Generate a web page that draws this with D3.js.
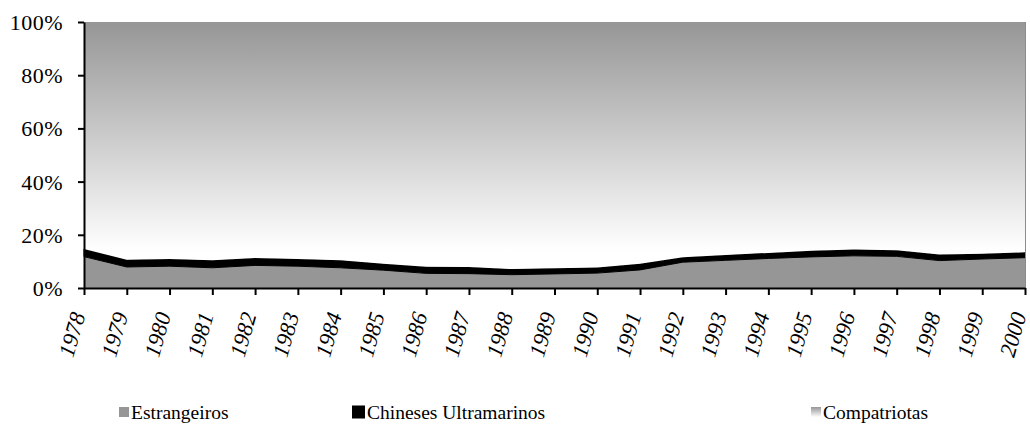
<!DOCTYPE html>
<html>
<head>
<meta charset="utf-8">
<script src="https://cdn.jsdelivr.net/npm/d3@7"></script>
<style>
  html, body { margin: 0; padding: 0; background: #fff; }
  svg { display: block; }
</style>
</head>
<body>
<svg id="chart" width="1030" height="432"></svg>
<script>
const years = ["1978","1979","1980","1981","1982","1983","1984","1985","1986","1987","1988","1989","1990","1991","1992","1993","1994","1995","1996","1997","1998","1999","2000"];
const estrangeiros = [11.8, 7.9, 8.2, 7.6, 8.5, 8.2, 7.6, 6.7, 5.5, 5.4, 5.0, 5.3, 5.6, 6.8, 9.7, 10.4, 11.1, 11.7, 12.1, 11.9, 10.3, 10.9, 11.4];
const chinesesUltramarinos = [2.9, 2.7, 2.7, 2.8, 2.8, 2.7, 2.8, 2.4, 2.5, 2.5, 2.1, 2.1, 2.1, 2.3, 1.9, 2.0, 2.1, 2.3, 2.4, 2.3, 2.3, 2.0, 2.0];
const compatriotas = [85.3, 89.4, 89.1, 89.6, 88.7, 89.1, 89.6, 90.9, 92.0, 92.1, 92.9, 92.6, 92.3, 90.9, 88.4, 87.6, 86.8, 86.0, 85.5, 85.8, 87.4, 87.1, 86.6];
const seriesNames = ["Estrangeiros", "Chineses Ultramarinos", "Compatriotas"];
const yTicks = [0, 20, 40, 60, 80, 100];

const FONT = "Liberation Serif";
const svg = d3.select("#chart").attr("font-family", FONT);
const m = { left: 84, right: 1025, top: 22, bottom: 288 };

const rows = years.map((y, i) => {
  const tot = estrangeiros[i] + chinesesUltramarinos[i] + compatriotas[i];
  return { e: estrangeiros[i] / tot * 100, c: chinesesUltramarinos[i] / tot * 100, p: compatriotas[i] / tot * 100 };
});
const stack = d3.stack().keys(["e", "c", "p"])(rows);

const x = d3.scalePoint().domain(years).range([m.left, m.right]);
const y = d3.scaleLinear().domain([0, 100]).range([m.bottom, m.top]);

const defs = svg.append("defs");
const grad = defs.append("linearGradient").attr("id", "gComp")
  .attr("gradientUnits", "userSpaceOnUse")
  .attr("x1", 0).attr("x2", 0).attr("y1", y(100)).attr("y2", y(14));
grad.append("stop").attr("offset", "0%").attr("stop-color", "#969696");
grad.append("stop").attr("offset", "100%").attr("stop-color", "#ffffff");
const lgGrad = defs.append("linearGradient").attr("id", "gLeg").attr("x1", 0).attr("x2", 0).attr("y1", 0).attr("y2", 1);
lgGrad.append("stop").attr("offset", "0%").attr("stop-color", "#969696");
lgGrad.append("stop").attr("offset", "100%").attr("stop-color", "#ffffff");

const fills = ["#969696", "#000000", "url(#gComp)"];
const area = d3.area().x((d, i) => x(years[i])).y0(d => y(d[0])).y1(d => y(d[1]));
svg.append("g").selectAll("path").data(stack).join("path")
  .attr("d", area).attr("fill", (d, i) => fills[i])
  .attr("stroke", (d, i) => i === 1 ? "#000" : "none").attr("stroke-width", 1);

svg.append("line").attr("x1", m.right + 0.5).attr("x2", m.right + 0.5)
  .attr("y1", m.top).attr("y2", m.bottom).attr("stroke", "#8c8c8c").attr("stroke-width", 1);

// Y axis
const gy = svg.append("g").attr("transform", `translate(${m.left},0)`)
  .call(d3.axisLeft(y).tickValues(yTicks).tickFormat(d => d + "%").tickSize(6).tickSizeOuter(0));
gy.attr("font-family", FONT).attr("font-size", 22);
gy.select(".domain").attr("stroke", "#000").attr("stroke-width", 2);
gy.selectAll(".tick line").attr("stroke", "#000").attr("stroke-width", 2);
gy.selectAll(".tick text").attr("x", -21).attr("dy", "0.34em").attr("font-family", FONT).attr("letter-spacing", 0.5).attr("fill", "#000");

// X axis
const gx = svg.append("g").attr("transform", `translate(0,${m.bottom})`)
  .call(d3.axisBottom(x).tickSize(7).tickSizeOuter(0));
gx.attr("font-family", FONT).attr("font-size", 22.5);
gx.select(".domain").attr("stroke", "#000").attr("stroke-width", 2);
gx.selectAll(".tick line").attr("stroke", "#000").attr("stroke-width", 2);
gx.selectAll(".tick text").attr("text-anchor", "end").attr("dy", 0).attr("y", 0)
  .attr("transform", "translate(1,27) rotate(-74)")
  .attr("font-family", FONT).attr("font-style", "italic").attr("fill", "#000");

// Legend
const legendX = [119, 352, 811];
const legendFill = ["#969696", "#000000", "url(#gLeg)"];
const legendSize = [10, 13, 10];
const lg = svg.append("g").attr("font-family", FONT).attr("font-size", 19.5);
seriesNames.forEach((name, i) => {
  const s = legendSize[i];
  lg.append("rect").attr("x", legendX[i]).attr("y", 412 - s / 2).attr("width", s).attr("height", s).attr("fill", legendFill[i]);
  lg.append("text").attr("x", legendX[i] + s + 2).attr("y", 419).attr("fill", "#000").text(name);
});
</script>
</body>
</html>
